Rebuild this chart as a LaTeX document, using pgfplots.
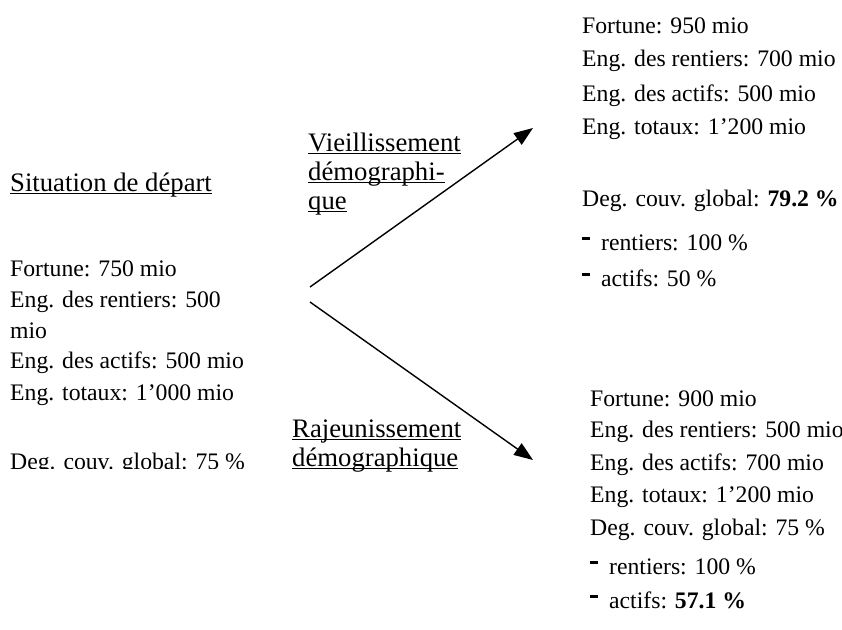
\documentclass[border=0pt]{standalone}
\usepackage{fontspec}
\setmainfont{Liberation Serif}
\usepackage{pgfplots}
\pgfplotsset{compat=1.18}
\usetikzlibrary{arrows.meta}
\newcommand\ul[1]{\setbox0\hbox{#1}\rlap{\rule[-0.12em]{\wd0}{0.06em}}\box0}
\newcommand\dash{\rule[0.42em]{0.34em}{0.12em}\hspace{0.46em}}
\tikzset{
  body/.style={inner sep=0pt, anchor=base west, font=\fontsize{23.7}{28}\selectfont},
  head/.style={inner sep=0pt, anchor=base west, font=\fontsize{26.7}{30}\selectfont}}
\begin{document}
\begin{tikzpicture}
\begin{axis}[hide axis, scale only axis, width=842pt, height=629pt,
  xmin=0, xmax=842, ymin=0, ymax=629, y dir=reverse, clip=false]
\addplot[draw=none] coordinates {(0,0) (842,629)};
% arrows
\addplot[-{Triangle[length=19pt,width=14pt]}, line width=1.4pt] coordinates {(310,287) (533,128)};
\addplot[-{Triangle[length=19pt,width=14pt]}, line width=1.4pt] coordinates {(310,302) (533,460)};
% left block
\node[head] at (axis cs:10,191) {\ul{Situation de départ}};
\node[body] at (axis cs:10,276) {Fortune: 750 mio};
\node[body] at (axis cs:10,307) {Eng. des rentiers: 500};
\node[body] at (axis cs:10,338) {mio};
\node[body] at (axis cs:10,368) {Eng. des actifs: 500 mio};
\node[body] at (axis cs:10,400) {Eng. totaux: 1’000 mio};
\begin{scope}
\clip (axis cs:0,440) rectangle (axis cs:300,468);
\node[body] at (axis cs:10,469) {Deg. couv. global: 75 \%};
\end{scope}
% middle labels
\node[head] at (axis cs:308,151) {\ul{Vieillissement}};
\node[head] at (axis cs:308,180) {\ul{démographi-}};
\node[head] at (axis cs:308,209) {\ul{que}};
\node[head] at (axis cs:292,437) {\ul{Rajeunissement}};
\node[head] at (axis cs:292,466) {\ul{démographique}};
% top right block
\node[body] at (axis cs:582,33) {Fortune: 950 mio};
\node[body] at (axis cs:582,66) {Eng. des rentiers: 700 mio};
\node[body] at (axis cs:582,101) {Eng. des actifs: 500 mio};
\node[body] at (axis cs:582,134) {Eng. totaux: 1’200 mio};
\node[body] at (axis cs:582,206) {Deg. couv. global: \textbf{79.2 \%}};
\node[body] at (axis cs:582,250) {\dash rentiers: 100 \%};
\node[body] at (axis cs:582,286) {\dash actifs: 50 \%};
% bottom right block
\node[body] at (axis cs:590,406) {Fortune: 900 mio};
\node[body] at (axis cs:590,437) {Eng. des rentiers: 500 mio};
\node[body] at (axis cs:590,470) {Eng. des actifs: 700 mio};
\node[body] at (axis cs:590,502) {Eng. totaux: 1’200 mio};
\node[body] at (axis cs:590,535) {Deg. couv. global: 75 \%};
\node[body] at (axis cs:590,574) {\dash rentiers: 100 \%};
\node[body] at (axis cs:590,608) {\dash actifs: \textbf{57.1 \%}};
\end{axis}
\pgfresetboundingbox
\path (current axis.south west) rectangle (current axis.north east);
\end{tikzpicture}
\end{document}
